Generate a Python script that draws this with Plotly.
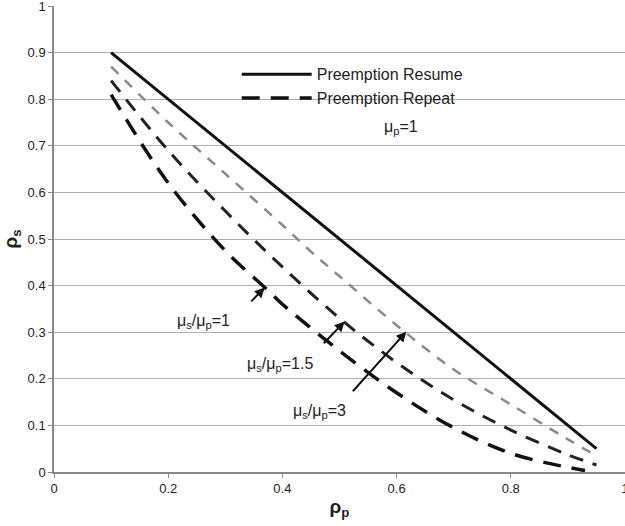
import plotly.graph_objects as go

# data
rho_p_resume = [0.1, 0.95]
rho_s_resume = [0.9, 0.05]

rho_p_r3 = [0.1, 0.2, 0.3, 0.4, 0.45, 0.5, 0.6, 0.7, 0.8, 0.9, 0.95]
rho_s_r3 = [0.87, 0.75, 0.64, 0.53, 0.473, 0.42, 0.315, 0.22, 0.145, 0.07, 0.035]

rho_p_r15 = [0.1, 0.2, 0.3, 0.4, 0.5, 0.6, 0.7, 0.8, 0.9, 0.95]
rho_s_r15 = [0.84, 0.69, 0.56, 0.44, 0.33, 0.235, 0.155, 0.09, 0.037, 0.015]

rho_p_r1 = [0.1, 0.2, 0.3, 0.37, 0.4, 0.5, 0.6, 0.7, 0.8, 0.9, 0.93]
rho_s_r1 = [0.81, 0.62, 0.475, 0.395, 0.36, 0.26, 0.17, 0.095, 0.04, 0.01, 0.003]

x_ticks = [0, 0.2, 0.4, 0.6, 0.8, 1]
x_tick_text = ["0", "0.2", "0.4", "0.6", "0.8", "1"]
y_ticks = [0, 0.1, 0.2, 0.3, 0.4, 0.5, 0.6, 0.7, 0.8, 0.9, 1]
y_tick_text = ["0", "0.1", "0.2", "0.3", "0.4", "0.5", "0.6", "0.7", "0.8", "0.9", "1"]

FONT = "Liberation Sans, Arial, sans-serif"

fig = go.Figure()
fig.add_trace(go.Scatter(x=rho_p_resume, y=rho_s_resume, mode="lines",
                         line=dict(color="#111111", width=3),
                         name="Preemption Resume", showlegend=True))
fig.add_trace(go.Scatter(x=rho_p_r3, y=rho_s_r3, mode="lines", line_shape="spline",
                         line=dict(color="#8a8a8a", width=2.5, dash="10px,9px"),
                         showlegend=False))
fig.add_trace(go.Scatter(x=rho_p_r15, y=rho_s_r15, mode="lines", line_shape="spline",
                         line=dict(color="#222222", width=3, dash="14px,10px"),
                         showlegend=False))
fig.add_trace(go.Scatter(x=rho_p_r1, y=rho_s_r1, mode="lines", line_shape="spline",
                         line=dict(color="#111111", width=3.5, dash="18px,11px"),
                         name="Preemption Repeat", showlegend=True))

annots = [
    dict(x=0.369, y=0.396, ax=0.343, ay=0.363),
    dict(x=0.509, y=0.323, ax=0.470, ay=0.273),
    dict(x=0.617, y=0.301, ax=0.521, ay=0.170),
]
for a in annots:
    fig.add_annotation(x=a["x"], y=a["y"], ax=a["ax"], ay=a["ay"], xref="x", yref="y",
                       axref="x", ayref="y", text="", showarrow=True,
                       arrowhead=2, arrowsize=1, arrowwidth=2, arrowcolor="#111111")

labels = [
    (0.262, 0.323, "μ<sub>s</sub>/μ<sub>p</sub>=1"),
    (0.395, 0.230, "μ<sub>s</sub>/μ<sub>p</sub>=1.5"),
    (0.465, 0.129, "μ<sub>s</sub>/μ<sub>p</sub>=3"),
    (0.607, 0.740, "μ<sub>p</sub>=1"),
]
for lx, ly, lt in labels:
    fig.add_annotation(x=lx, y=ly, xref="x", yref="y", text=lt, showarrow=False,
                       font=dict(family=FONT, size=16, color="#222222"))

fig.update_layout(
    width=625, height=526,
    margin=dict(l=54, r=0, t=6, b=54),
    plot_bgcolor="white", paper_bgcolor="white",
    font=dict(family=FONT, size=13, color="#222222"),
    legend=dict(x=0.32, y=0.89, xanchor="left", yanchor="top",
                bgcolor="rgba(0,0,0,0)", itemwidth=70, tracegroupgap=0,
                font=dict(family=FONT, size=16, color="#222222")),
    xaxis=dict(range=[0, 1], tickvals=x_ticks, ticktext=x_tick_text, automargin=False,
               ticklabeloverflow="allow",
               showgrid=False, zeroline=False, showline=True, linecolor="#888888",
               linewidth=1.5, ticks="outside", ticklen=4, tickcolor="#888888",
               title=dict(text="<b>ρ<sub>p</sub></b>", font=dict(size=19), standoff=4)),
    yaxis=dict(range=[0, 1], tickvals=y_ticks, ticktext=y_tick_text, automargin=False,
               ticklabeloverflow="allow",
               showgrid=True, gridcolor="#b0b0b0", gridwidth=1, zeroline=False,
               showline=True, linecolor="#888888", linewidth=1.5,
               ticks="outside", ticklen=4, tickcolor="#888888",
               title=dict(text="<b>ρ<sub>s</sub></b>", font=dict(size=19), standoff=6)),
)

fig.write_html("out.html", config={"displayModeBar": False},
               post_script="document.body.style.margin='0';document.body.style.overflow='hidden';")
